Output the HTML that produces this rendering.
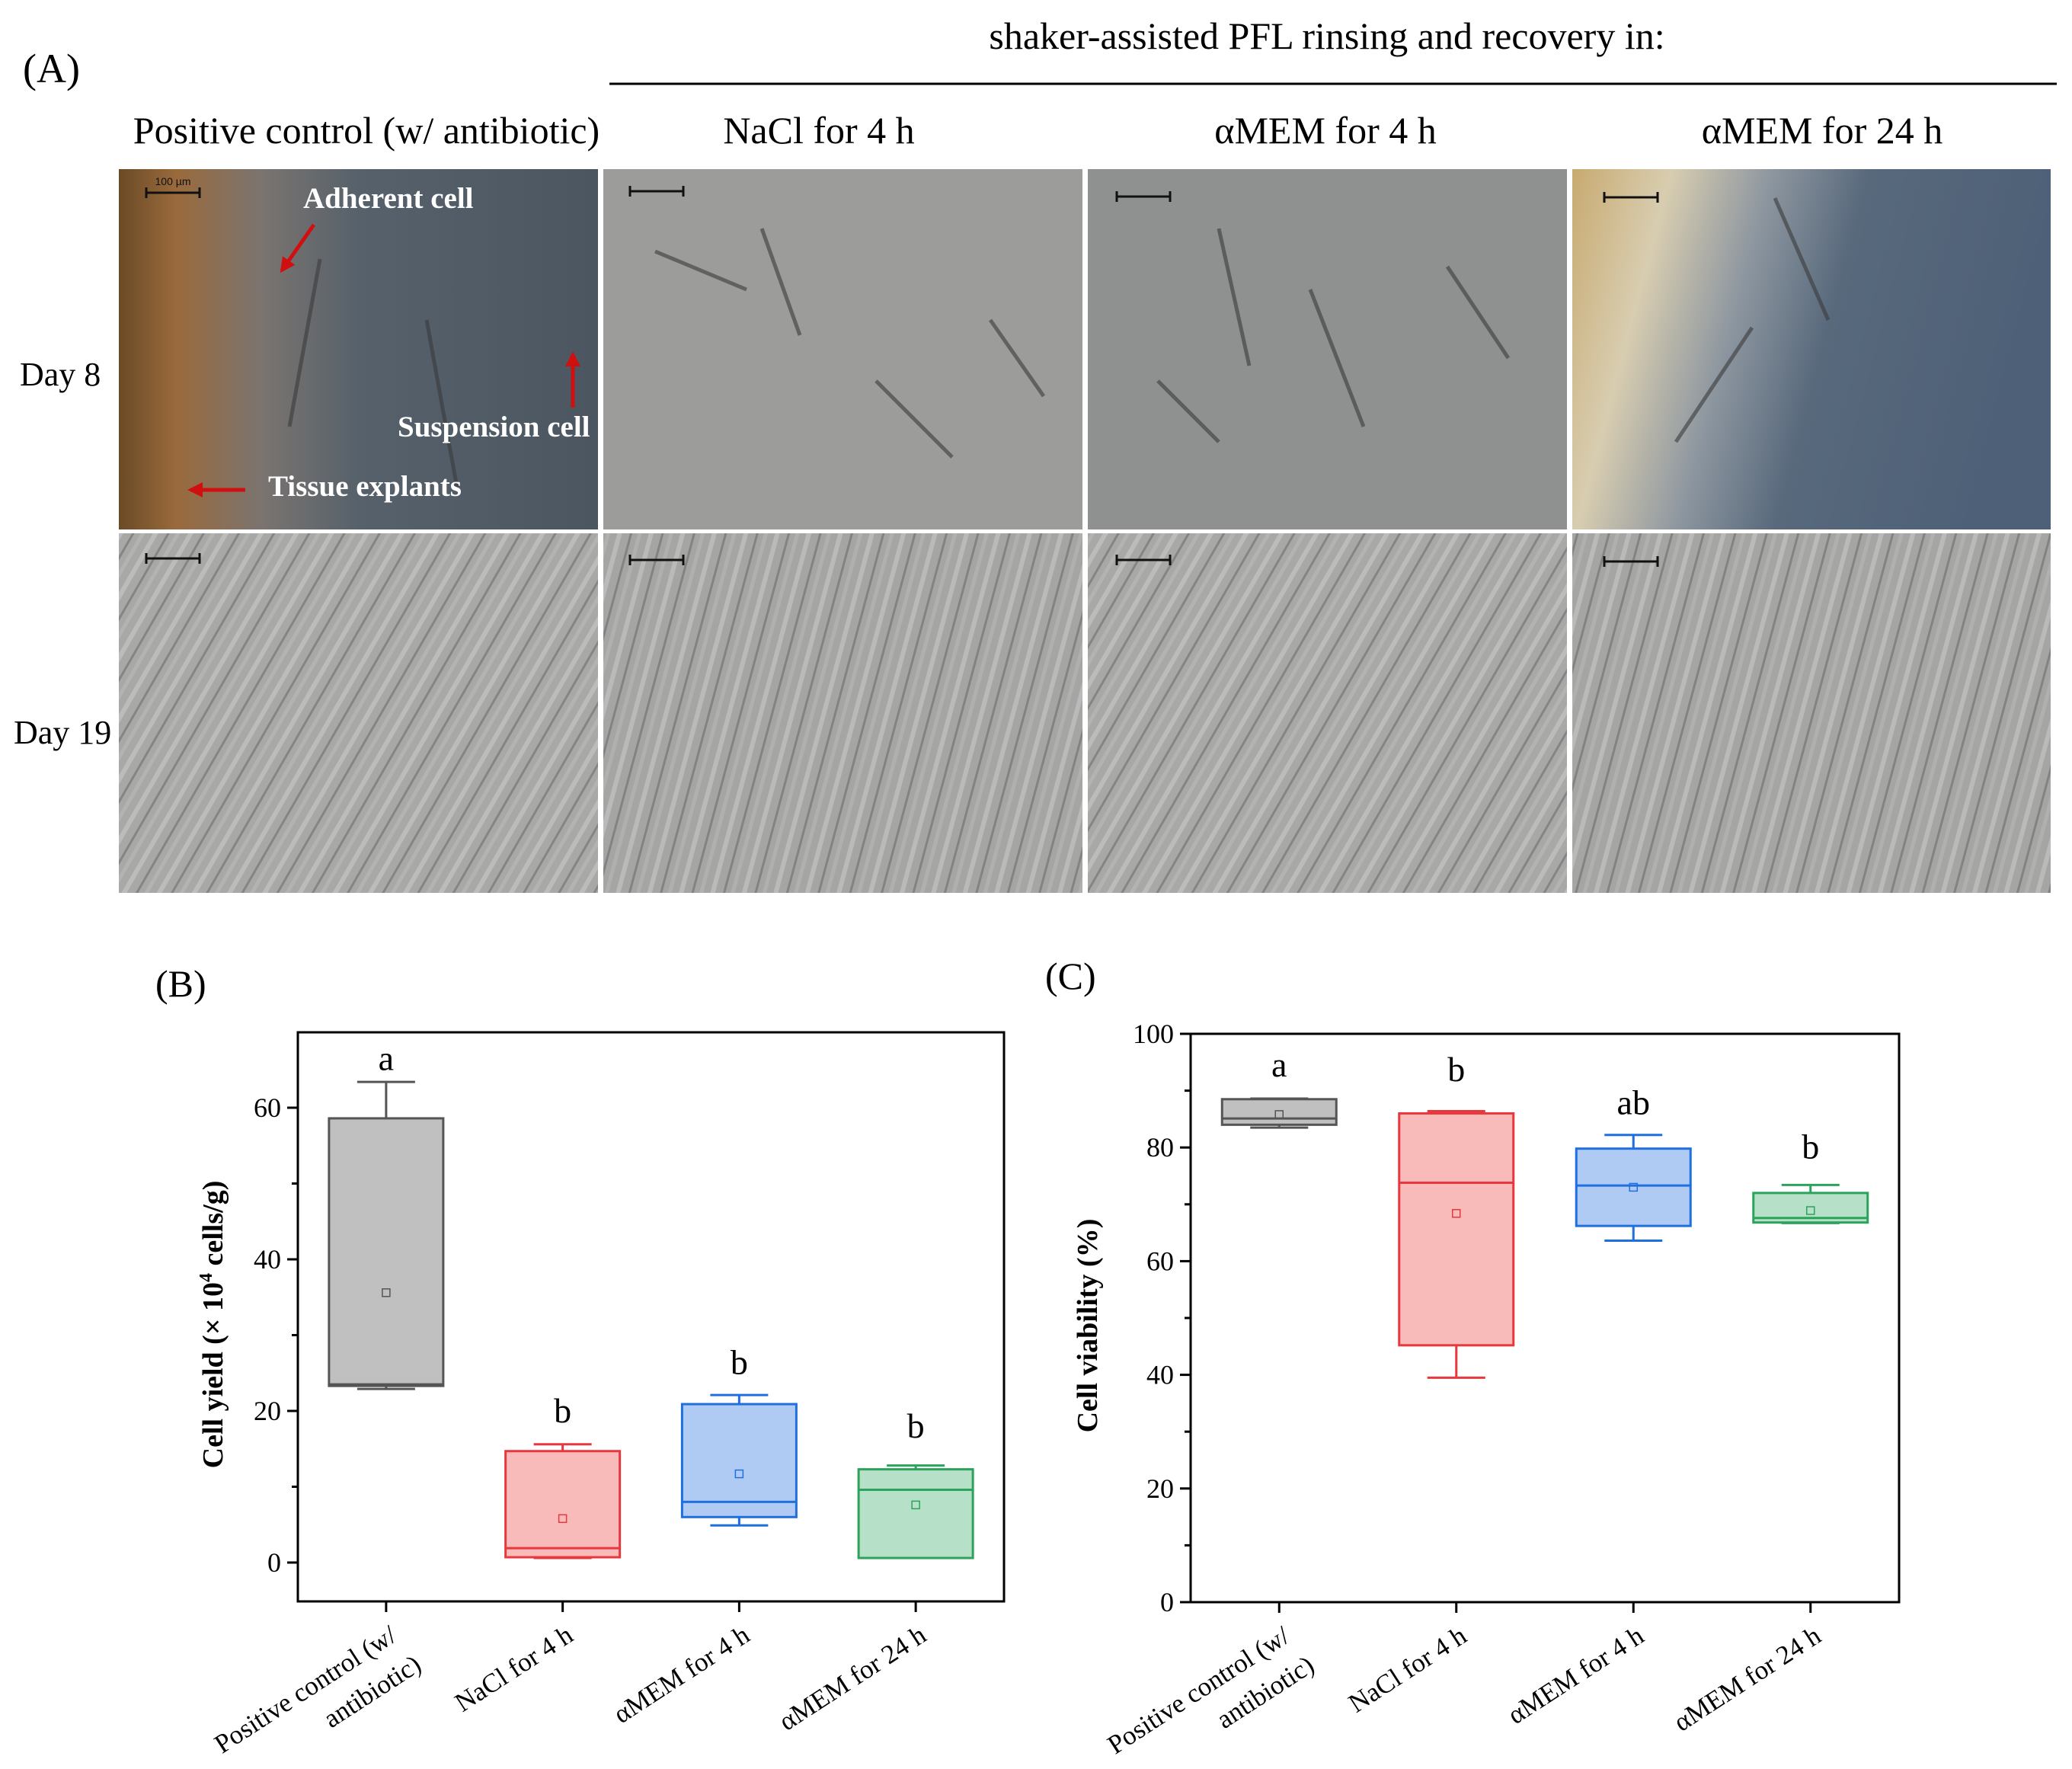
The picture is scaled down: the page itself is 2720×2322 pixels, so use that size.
<!DOCTYPE html>
<html><head><meta charset="utf-8"><style>
html,body{margin:0;padding:0;background:#fff;}
svg{display:block;font-family:"Liberation Serif",serif;}
</style></head><body>
<svg id="fig" width="2720" height="2322" viewBox="0 0 2720 2322" xmlns="http://www.w3.org/2000/svg">
<defs>
<linearGradient id="g-pos" x1="0" y1="0" x2="1" y2="0">
<stop offset="0" stop-color="#6a4a26"/><stop offset="0.12" stop-color="#9a6a3c"/><stop offset="0.3" stop-color="#7a7470"/><stop offset="0.5" stop-color="#56616b"/><stop offset="1" stop-color="#4c5660"/></linearGradient>
<linearGradient id="g-24" x1="0" y1="0" x2="1" y2="0.2">
<stop offset="0" stop-color="#c8aa70"/><stop offset="0.2" stop-color="#d8cdb0"/><stop offset="0.4" stop-color="#8e97a0"/><stop offset="0.6" stop-color="#58697c"/><stop offset="1" stop-color="#4e6077"/></linearGradient>
<pattern id="streak" width="40" height="40" patternUnits="userSpaceOnUse" patternTransform="rotate(-60)">
<rect width="40" height="40" fill="#a8a8a6"/><rect width="40" height="6" y="4" fill="#bcbcba"/><rect width="40" height="3" y="20" fill="#858585"/><rect width="40" height="5" y="30" fill="#b3b3b1"/></pattern>
<pattern id="streak2" width="40" height="40" patternUnits="userSpaceOnUse" patternTransform="rotate(-75)">
<rect width="40" height="40" fill="#a5a5a3"/><rect width="40" height="6" y="4" fill="#bababa"/><rect width="40" height="3" y="20" fill="#838383"/><rect width="40" height="5" y="30" fill="#b0b0ae"/></pattern>
<marker id="arr" viewBox="0 0 10 10" refX="8" refY="5" markerWidth="4" markerHeight="4" orient="auto"><path d="M0,0L10,5L0,10z" fill="#d01010"/></marker>
</defs>

<!-- Panel A -->
<text x="30" y="108" font-size="54">(A)</text>
<text x="1742" y="64" font-size="50" text-anchor="middle">shaker-assisted  PFL rinsing  and recovery in:</text>
<line x1="800" y1="110" x2="2700" y2="110" stroke="#000" stroke-width="3"/>
<text x="481" y="188" font-size="50" text-anchor="middle">Positive control (w/ antibiotic)</text>
<text x="1075" y="188" font-size="50" text-anchor="middle">NaCl for 4 h</text>
<text x="1740" y="188" font-size="50" text-anchor="middle">αMEM for 4 h</text>
<text x="2392" y="188" font-size="50" text-anchor="middle">αMEM for 24 h</text>
<text x="26" y="506" font-size="44">Day  8</text>
<text x="18" y="976" font-size="44">Day  19</text>

<rect x="156" y="222" width="629" height="473" fill="url(#g-pos)"/>
<rect x="792" y="222" width="629" height="473" fill="#9c9c9a"/>
<rect x="1428" y="222" width="629" height="473" fill="#8f9090"/>
<rect x="2064" y="222" width="628" height="473" fill="url(#g-24)"/>
<rect x="156" y="700" width="629" height="472" fill="url(#streak)"/>
<rect x="792" y="700" width="629" height="472" fill="url(#streak2)"/>
<rect x="1428" y="700" width="629" height="472" fill="url(#streak)"/>
<rect x="2064" y="700" width="628" height="472" fill="url(#streak2)"/>
<g id="cells" stroke="#3a3a3a" stroke-width="5" fill="none" opacity="0.6"></g>

<g stroke="#111" stroke-width="3">
<path d="M192,253h70M192,246v14M262,246v14"/><path d="M827,251h70M827,244v14M897,244v14"/><path d="M1466,258h70M1466,251v14M1536,251v14"/><path d="M2106,259h70M2106,252v14M2176,252v14"/>
<path d="M192,733h70M192,726v14M262,726v14"/><path d="M827,735h70M827,728v14M897,728v14"/><path d="M1466,735h70M1466,728v14M1536,728v14"/><path d="M2106,737h70M2106,730v14M2176,730v14"/>
</g>
<text x="227" y="243" font-size="14" font-family="Liberation Sans" text-anchor="middle" fill="#111">100 µm</text>
<text x="398" y="273" font-size="39" font-weight="bold" fill="#fff">Adherent cell</text>
<text x="522" y="573" font-size="39" font-weight="bold" fill="#fff">Suspension cell</text>
<text x="352" y="651" font-size="39" font-weight="bold" fill="#fff">Tissue explants</text>
<g stroke="#d01010" stroke-width="5">
<line x1="412" y1="295" x2="370" y2="355" marker-end="url(#arr)"/>
<line x1="752" y1="535" x2="752" y2="465" marker-end="url(#arr)"/>
<line x1="322" y1="643" x2="250" y2="643" marker-end="url(#arr)"/>
</g>

<!-- Panels B and C -->
<text x="204" y="1308" font-size="50">(B)</text>
<text x="1372" y="1298" font-size="50">(C)</text>
<g id="chartB"></g>
<g id="chartC"></g>
</svg>
<script>
const categories = ["Positive control (w/|antibiotic)", "NaCl for 4 h", "αMEM for 4 h", "αMEM for 24 h"];
const yieldWhiskerHigh = [63.4, 15.6, 22.1, 12.8];
const yieldQ3 = [58.6, 14.7, 20.9, 12.3];
const yieldMedian = [23.5, 1.9, 8.0, 9.6];
const yieldQ1 = [23.3, 0.7, 6.0, 0.6];
const yieldWhiskerLow = [22.9, 0.6, 4.9, 0.6];
const yieldMean = [35.6, 5.8, 11.7, 7.6];
const yieldLetters = ["a", "b", "b", "b"];
const yieldLetterPos = [66.5, 20.0, 26.4, 18.0];
const yieldTicks = [0, 20, 40, 60];
const yieldMinor = [10, 30, 50];
const viaWhiskerHigh = [88.6, 86.4, 82.2, 73.4];
const viaQ3 = [88.5, 86.0, 79.8, 72.0];
const viaMedian = [85.1, 73.8, 73.3, 67.6];
const viaQ1 = [84.0, 45.2, 66.2, 66.8];
const viaWhiskerLow = [83.5, 39.5, 63.6, 66.7];
const viaMean = [85.8, 68.4, 73.0, 68.9];
const viaLetters = ["a", "b", "ab", "b"];
const viaLetterPos = [94.5, 93.7, 87.9, 80.1];
const viaTicks = [0, 20, 40, 60, 80, 100];
const viaMinor = [10, 30, 50, 70, 90];

const fills = ["#c0c0c0", "#f9baba", "#afcbf3", "#b7e0c8"];
const strokes = ["#555555", "#e8383d", "#1f6fe0", "#2ca35a"];
const NS = "http://www.w3.org/2000/svg";
function mk(parent, tag, attrs, txt) {
  const e = document.createElementNS(NS, tag);
  for (const k in attrs) e.setAttribute(k, attrs[k]);
  if (txt !== undefined) e.textContent = txt;
  parent.appendChild(e);
  return e;
}
const cg = document.getElementById('cells');
[[1000,300,1050,440],[860,330,980,380],[1300,420,1370,520],[1150,500,1250,600],[1600,300,1640,480],[1720,380,1790,560],[1900,350,1980,470],[1520,500,1600,580],[2330,260,2400,420],[2300,430,2200,580],[420,340,380,560],[560,420,600,640]].forEach(function(c){
  const p = mk(cg, 'path', {d: 'M'+c[0]+','+c[1]+'L'+c[2]+','+c[3]});
  
  
});

function drawChart(gid, cfg) {
  const g = document.getElementById(gid);
  const L = cfg.left, R = cfg.right, T = cfg.top, B = cfg.bottom;
  const y = v => cfg.y0px + (v - cfg.v0) * (cfg.y1px - cfg.y0px) / (cfg.v1 - cfg.v0);
  const x = i => L + (R - L) * (i + 0.5) / categories.length;
  const bw = 150;
  for (let i = 0; i < categories.length; i++) {
    const cx = x(i);
    const wh = mk(g, 'path', {d: 'M' + (cx - 38) + ',' + y(cfg.wh[i]) + 'h76M' + cx + ',' + y(cfg.wh[i]) + 'V' + y(cfg.q3[i]) + 'M' + cx + ',' + y(cfg.q1[i]) + 'V' + y(cfg.wl[i]) + 'M' + (cx - 38) + ',' + y(cfg.wl[i]) + 'h76', stroke: strokes[i], 'stroke-width': 3, fill: 'none'});
    
    
    const bx = mk(g, 'rect', {x: cx - bw / 2, y: y(cfg.q3[i]), width: bw, height: y(cfg.q1[i]) - y(cfg.q3[i]), fill: fills[i], stroke: strokes[i], 'stroke-width': 3});
    
    
    const md = mk(g, 'line', {x1: cx - bw / 2, x2: cx + bw / 2, y1: y(cfg.med[i]), y2: y(cfg.med[i]), stroke: strokes[i], 'stroke-width': 3});
    
    
    const mn = mk(g, 'rect', {x: cx - 5, y: y(cfg.mean[i]) - 5, width: 10, height: 10, fill: 'none', stroke: strokes[i], 'stroke-width': 1.5});
    
    
    const lt = mk(g, 'text', {x: cx, y: y(cfg.letPos[i]) + 15, 'font-size': 46, 'text-anchor': 'middle'}, cfg.letters[i]);
    
    
    const xt = mk(g, 'line', {x1: cx, x2: cx, y1: B, y2: B + 14, stroke: '#000', 'stroke-width': 3});
    
    
    const parts = categories[i].split('|');
    const ax = cx + 16, ay = B + 50;
    const tx = mk(g, 'text', {x: ax, y: ay, 'font-size': 35, 'text-anchor': 'end', transform: 'rotate(-33 ' + ax + ' ' + ay + ')'});
    
    
    parts.forEach(function (p, k) {
      const ts = mk(tx, 'tspan', {x: ax + k * 6, dy: k ? 50 : 0}, p);
      
      
    });
  }
  const fr = mk(g, 'rect', {x: L, y: T, width: R - L, height: B - T, fill: 'none', stroke: '#000', 'stroke-width': 3});
  
  
  cfg.ticks.forEach(function (t) {
    const tk = mk(g, 'line', {x1: L - 14, x2: L, y1: y(t), y2: y(t), stroke: '#000', 'stroke-width': 3});
    
    
    const tl = mk(g, 'text', {x: L - 22, y: y(t) + 12, 'font-size': 36, 'text-anchor': 'end'}, String(t));
    
    
  });
  cfg.minor.forEach(function (t) {
    const tk = mk(g, 'line', {x1: L - 8, x2: L, y1: y(t), y2: y(t), stroke: '#000', 'stroke-width': 3});
    
    
  });
  const ttl = mk(g, 'text', {x: cfg.titleX, y: (T + B) / 2 + 10, 'font-size': 38, 'font-weight': 'bold', 'text-anchor': 'middle', transform: 'rotate(-90 ' + cfg.titleX + ' ' + ((T + B) / 2 + 10) + ')'});
  
  
  cfg.title.forEach(function (p) {
    const ts = mk(ttl, 'tspan', p[1] ? {'font-size': 24, dy: -14} : {dy: p[2] || 0}, p[0]);
    
    
  });
}
drawChart('chartB', {left: 391, right: 1318, top: 1355, bottom: 2102, v0: 0, v1: 60, y0px: 2051, y1px: 1454,
  wh: yieldWhiskerHigh, q3: yieldQ3, med: yieldMedian, q1: yieldQ1, wl: yieldWhiskerLow, mean: yieldMean,
  letters: yieldLetters, letPos: yieldLetterPos, ticks: yieldTicks, minor: yieldMinor, titleX: 292,
  title: [["Cell yield (× 10"], ["4", true], [" cells/g)", false, 14]]});
drawChart('chartC', {left: 1563, right: 2493, top: 1357, bottom: 2103, v0: 0, v1: 100, y0px: 2103, y1px: 1357,
  wh: viaWhiskerHigh, q3: viaQ3, med: viaMedian, q1: viaQ1, wl: viaWhiskerLow, mean: viaMean,
  letters: viaLetters, letPos: viaLetterPos, ticks: viaTicks, minor: viaMinor, titleX: 1440,
  title: [["Cell viability (%)"]]});
</script>
</body></html>
